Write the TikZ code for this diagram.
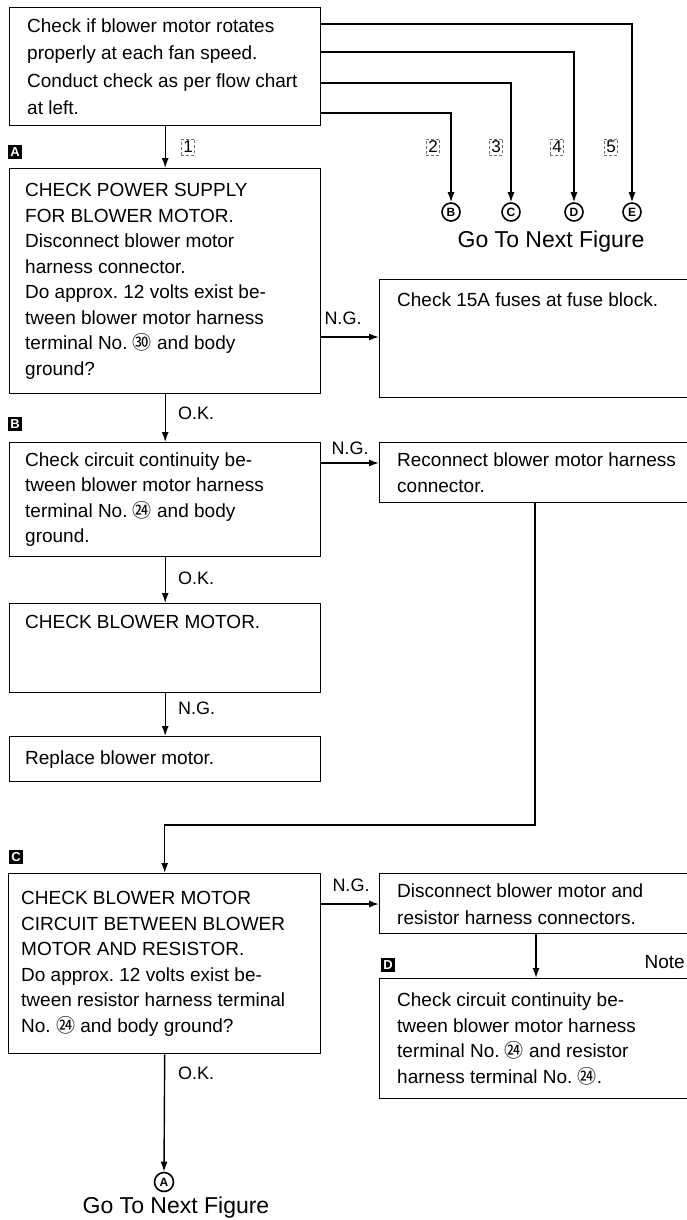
\documentclass[tikz,border=0pt]{standalone}
\usepackage{fontspec}
\setmainfont{Liberation Sans}
\newfontfamily\cjk{Noto Sans CJK SC}
\usetikzlibrary{arrows.meta,calc}
\frenchspacing
\begin{document}
\begin{tikzpicture}[x=1pt,y=-1pt,
  box/.style={draw, line width=1.4pt, rectangle, anchor=north west, inner sep=0pt},
  txt/.style={align=left, inner sep=0pt, font=\fontsize{19}{25.5}\selectfont},
  arr/.style={line width=1.4pt, -{Latex[length=10pt,width=7pt]}},
  lab/.style={inner sep=0pt, font=\fontsize{18}{18}\selectfont},
  tag/.style={fill=black, text=white, font=\bfseries\fontsize{13}{13}\selectfont, minimum size=14pt, inner sep=0pt},
  circ/.style={circle, draw, line width=1.6pt, inner sep=0pt, minimum size=18pt, font=\bfseries\fontsize{12}{12}\selectfont},
  num/.style={draw=black!55, densely dashed, line width=0.6pt, inner sep=2pt, font=\fontsize{17}{17}\selectfont},
  goto/.style={inner sep=0pt, font=\fontsize{23}{23}\selectfont}]
\useasboundingbox (0,0) rectangle (687,1220);
\clip (0,0) rectangle (687,1220);

% boxes
\node[box, minimum width=311pt, minimum height=118pt] (top) at (9,7) {};
\node[box, minimum width=311pt, minimum height=225pt] (boxA) at (9,168) {};
\node[box, minimum width=330pt, minimum height=118pt] (fuse) at (379,279) {};
\node[box, minimum width=311pt, minimum height=114pt] (boxB) at (9,442) {};
\node[box, minimum width=330pt, minimum height=60pt] (recon) at (379,442) {};
\node[box, minimum width=311pt, minimum height=89pt] (cbm) at (9,603) {};
\node[box, minimum width=311pt, minimum height=45pt] (repl) at (9,736) {};
\node[box, minimum width=312pt, minimum height=180pt] (boxC) at (8,873) {};
\node[box, minimum width=330pt, minimum height=60pt] (disc) at (379,873) {};
\node[box, minimum width=330pt, minimum height=120pt] (dbox) at (379,978) {};

% texts
\node[txt, anchor=west, font=\fontsize{19}{27.3}\selectfont] (topT) at ([xshift=18pt]top.west)
  {Check if blower motor rotates\\properly at each fan speed.\\Conduct check as per flow chart\\at left.};
\node[txt, anchor=west] (boxAT) at ([xshift=16pt]boxA.west)
  {CHECK POWER SUPPLY\\FOR BLOWER MOTOR.\\Disconnect blower motor\\harness connector.\\Do approx. 12 volts exist be-\\tween blower motor harness\\terminal No. {\cjk ㉚} and body\\ground?};
\node[txt, anchor=north west] (fuseT) at ($(fuse.north west)+(18,14)$)
  {Check 15A fuses at fuse block.};
\node[txt, anchor=west] (boxBT) at ([xshift=16pt]boxB.west)
  {Check circuit continuity be-\\tween blower motor harness\\terminal No. {\cjk ㉔} and body\\ground.};
\node[txt, anchor=west] (reconT) at ([xshift=18pt]recon.west)
  {Reconnect blower motor harness\\connector.};
\node[txt, anchor=north west] (cbmT) at ($(cbm.north west)+(16,12)$)
  {CHECK BLOWER MOTOR.};
\node[txt, anchor=west] (replT) at ([xshift=16pt]repl.west)
  {Replace blower motor.};
\node[txt, anchor=west] (boxCT) at ([xshift=13pt]boxC.west)
  {CHECK BLOWER MOTOR\\CIRCUIT BETWEEN BLOWER\\MOTOR AND RESISTOR.\\Do approx. 12 volts exist be-\\tween resistor harness terminal\\No. {\cjk ㉔} and body ground?};
\node[txt, anchor=west, font=\fontsize{19}{27}\selectfont] (discT) at ([xshift=18pt]disc.west)
  {Disconnect blower motor and\\resistor harness connectors.};
\node[txt, anchor=west] (dboxT) at ([xshift=18pt]dbox.west)
  {Check circuit continuity be-\\tween blower motor harness\\terminal No. {\cjk ㉔} and resistor\\harness terminal No. {\cjk ㉔}.};

% tags
\node[tag] (tA) at (15,152) {A};
\node[tag] (tB) at (15,424) {B};
\node[tag] (tC) at (16,857) {C};
\node[tag] (tD) at (388,965) {D};

% circled connectors
\node[circ] (cB) at (451,212) {B};
\node[circ] (cC) at (511,212) {C};
\node[circ] (cD) at (574,212) {D};
\node[circ] (cE) at (632,212) {E};
\node[circ, minimum size=19pt] (cA) at (164,1182) {A};

\node[goto] (go1) at (551,242) {Go To Next Figure};
\node[goto] (go2) at (176,1208) {Go To Next Figure};

% numbered labels
\node[num] (n1) at (188,147) {1};
\node[num] (n2) at (433,147) {2};
\node[num] (n3) at (496,147) {3};
\node[num] (n4) at (557,147) {4};
\node[num] (n5) at (611,147) {5};

% helper coordinates
\coordinate (yE) at (0,24);
\coordinate (yD) at (0,52);
\coordinate (yC) at (0,83);
\coordinate (yB) at (0,113);
\coordinate (ngA) at (0,337);
\coordinate (ngB) at (0,463);
\coordinate (ngC) at (0,904);
\coordinate (bend) at (535,825);
\coordinate (dx) at (536,0);

% connectors
\draw[arr] (top.south) -- (boxA.north);
\draw[arr] (top.east |- yB) -| (cB.north);
\draw[arr] (top.east |- yC) -| (cC.north);
\draw[arr] (top.east |- yD) -| (cD.north);
\draw[arr] (top.east |- yE) -| (cE.north);
\draw[arr] (boxA.east |- ngA) -- (fuse.west |- ngA);
\draw[arr] (boxA.south) -- (boxB.north);
\draw[arr] (boxB.east |- ngB) -- (recon.west |- ngB);
\draw[arr] (boxB.south) -- (cbm.north);
\draw[arr] (cbm.south) -- (repl.north);
\draw[arr] (recon.south -| bend) -- (bend) -| (boxC.north);
\draw[arr] (boxC.east |- ngC) -- (disc.west |- ngC);
\draw[arr] (disc.south -| dx) -- (dbox.north -| dx);
\draw[arr] (boxC.south) -- (cA.north);

% connector labels
\node[lab] (l1) at (343,318) {N.G.};
\node[lab] (l2) at (350,448) {N.G.};
\node[lab] (l3) at (351,885) {N.G.};
\node[lab, anchor=west] (l4) at (178,413) {O.K.};
\node[lab, anchor=west] (l5) at (178,578) {O.K.};
\node[lab, anchor=west] (l6) at (178,708) {N.G.};
\node[lab, anchor=west] (l7) at (178,1073) {O.K.};
\node[txt, anchor=east] (note) at (685,962) {Note};
\end{tikzpicture}
\end{document}
